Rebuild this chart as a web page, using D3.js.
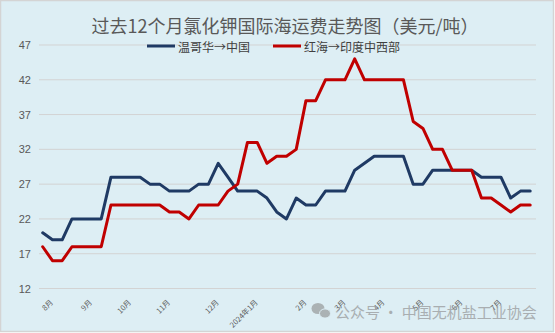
<!DOCTYPE html>
<html>
<head>
<meta charset="utf-8">
<script src="https://cdn.jsdelivr.net/npm/d3@7"></script>
<style>
html,body{margin:0;padding:0;background:#fff;}
svg{display:block;}
</style>
</head>
<body>
<svg id="chart" width="555" height="333"></svg>
<script>
const title = "过去12个月氯化钾国际海运费走势图（美元/吨）";
const seriesNames = ["温哥华→中国", "红海→印度中西部"];
const vancouverChina = [20,19,19,22,22,22,22,28,28,28,28,27,27,26,26,26,27,27,30,28,26,26,26,25,23,22,25,24,24,26,26,26,29,30,31,31,31,31,27,27,29,29,29,29,29,28,28,28,25,26,26];
const redSeaIndia = [18,16,16,18,18,18,18,24,24,24,24,24,24,23,23,22,24,24,24,26,27,33,33,30,31,31,32,39,39,42,42,42,45,42,42,42,42,42,36,35,32,32,29,29,29,25,25,24,23,24,24];
const yTicks = [12,17,22,27,32,37,42,47];
const monthLabels = ["8月","9月","10月","11月","12月","2024年1月","2月","3月","4月","5月","6月","7月"];
const monthLabelIndex = [1,5,9,13,18,22,27,31,35,39,43,47];
const watermark = "公众号 · 中国无机盐工业协会";

const svg = d3.select("#chart");
const W = 555, H = 333;
const colors = ["#1F3A64", "#C00000"];

svg.append("rect").attr("x",0.5).attr("y",0.5).attr("width",W-2).attr("height",H-2)
  .attr("fill","#DDEEF4").attr("stroke","#D4D4D4").attr("stroke-width",1.5);

const n = vancouverChina.length;
const x = d3.scaleLinear().domain([0, n-1]).range([42.7, 530.2]);
const y = d3.scaleLinear().domain([12, 47]).range([288.5, 45]);

// gridlines
svg.append("g").selectAll("line").data(yTicks).join("line")
  .attr("x1",39).attr("x2",536)
  .attr("y1",d=>y(d)).attr("y2",d=>y(d))
  .attr("stroke","#D3D3D3").attr("stroke-width",1);

// y labels
const yAxis = d3.axisLeft(y).tickValues(yTicks).tickSize(0).tickPadding(0);
const gy = svg.append("g").attr("transform","translate(31,0)").call(yAxis);
gy.select(".domain").remove();
gy.selectAll("text").attr("font-family","'Liberation Sans', Arial, sans-serif")
  .attr("font-size",11).attr("fill","#595959");

// x labels
svg.append("g").selectAll("text").data(monthLabels).join("text")
  .attr("transform",(d,i)=>`translate(${x(monthLabelIndex[i])-1.3},300.5) rotate(-45)`)
  .attr("text-anchor","end").attr("dominant-baseline","central")
  .attr("font-family","'Noto Sans CJK SC', sans-serif")
  .attr("font-size",7.5).attr("fill","#595959")
  .text(d=>d);

// lines
const line = d3.line().x((d,i)=>x(i)).y(d=>y(d));
[vancouverChina, redSeaIndia].forEach((s,k)=>{
  svg.append("path").datum(s).attr("d",line)
    .attr("fill","none").attr("stroke",colors[k]).attr("stroke-width",3)
    .attr("stroke-linejoin","round").attr("stroke-linecap","round");
});

// title
svg.append("text").attr("x",285).attr("y",25).attr("text-anchor","middle")
  .attr("dominant-baseline","central")
  .attr("font-family","'Noto Sans CJK SC', sans-serif").attr("font-size",18)
  .attr("fill","#595959").text(title);

// legend
const legX = [147, 273];
seriesNames.forEach((name,k)=>{
  const g = svg.append("g");
  g.append("line").attr("x1",legX[k]).attr("x2",legX[k]+28).attr("y1",46).attr("y2",46)
    .attr("stroke",colors[k]).attr("stroke-width",3);
  g.append("text").attr("x",legX[k]+31).attr("y",46).attr("dominant-baseline","central")
    .attr("font-family","'Noto Sans CJK SC', sans-serif").attr("font-size",12)
    .attr("fill","#404040").text(name);
});

// watermark
const wm = svg.append("g").attr("opacity",0.85);
wm.append("ellipse").attr("cx",318).attr("cy",308.5).attr("rx",6.5).attr("ry",5.5).attr("fill","#A3A8AA");
wm.append("ellipse").attr("cx",325).attr("cy",313.5).attr("rx",5.5).attr("ry",4.6).attr("fill","#A3A8AA")
  .attr("stroke","#DDEEF4").attr("stroke-width",1);
wm.append("text").attr("x",335).attr("y",311.5).attr("dominant-baseline","central")
  .attr("font-family","'Noto Sans CJK SC', sans-serif").attr("font-size",15)
  .attr("fill","#A0A4A6").text(watermark);
</script>
</body>
</html>
